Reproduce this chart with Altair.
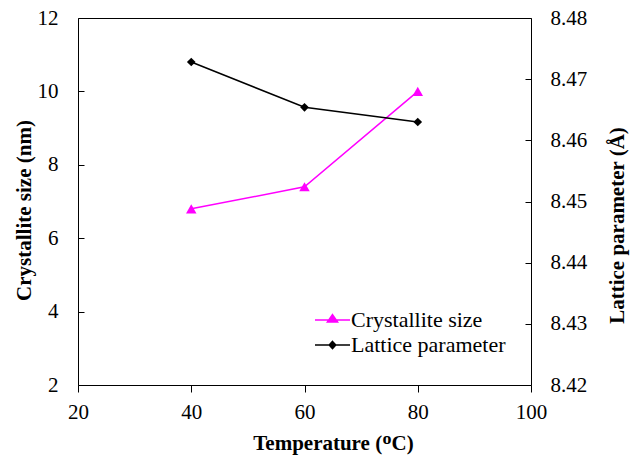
import altair as alt
import pandas as pd

temps = [40, 60, 80]
crystallite = [6.8, 7.4, 10.0]
lattice = [8.4728, 8.4654, 8.4630]
series_names = ["Crystallite size", "Lattice parameter"]
colors = ["#FF00FF", "#000000"]

x_ticks = [20, 40, 60, 80, 100]
left_ticks = [2, 4, 6, 8, 10, 12]
right_ticks = [8.42, 8.43, 8.44, 8.45, 8.46, 8.47, 8.48]

df_c = pd.DataFrame({"temp": temps, "value": crystallite})
df_l = pd.DataFrame({"temp": temps, "value": lattice})
df_leg = pd.DataFrame({"series": series_names})

FONT = "Liberation Serif"
TICK_FS = 21
TITLE_FS = 21

x_enc = alt.X(
    "temp:Q",
    scale=alt.Scale(domain=[20, 100], nice=False, zero=False),
    axis=alt.Axis(
        values=x_ticks, title="Temperature (ᴼC)", domain=False, grid=False,
        tickSize=7, tickColor="black", labelFlush=False,
        labelFont=FONT, labelFontSize=TICK_FS, labelColor="black", labelPadding=9,
        titleFont=FONT, titleFontSize=21, titleFontWeight="bold", titleColor="black",
        titlePadding=10, titleX=255, format="d",
    ),
)

legend_symbols = [
    "M-2.92,0L2.92,0M0,-0.9L0.85,0.35L-0.85,0.35Z",
    "M-2.92,0L2.92,0M0,-0.6L0.55,0L0,0.6L-0.55,0Z",
]

def make_legend():
    return alt.Legend(
        orient="none", legendX=243.5, legendY=291, title=None,
        labelFont=FONT, labelFontSize=22, labelColor="black",
        symbolSize=144, labelOffset=7.5, rowPadding=3, padding=0,
        symbolStrokeWidth=1.5, symbolOpacity=1,
    )

left_axis = alt.Axis(
    orient="left", values=left_ticks, offset=-6, tickSize=6, domain=False, grid=False,
    tickColor="black", labelFlush=False,
    labelFont=FONT, labelFontSize=TICK_FS, labelColor="black", labelPadding=20,
    title="Crystallite size (nm)", titleFont=FONT, titleFontSize=TITLE_FS,
    titleFontWeight="bold", titleColor="black", titlePadding=3, titleY=192,
)
right_axis = alt.Axis(
    orient="right", values=right_ticks, offset=-6, tickSize=6, domain=False, grid=False,
    tickColor="black", labelFlush=False, format=".2f",
    labelFont=FONT, labelFontSize=TICK_FS, labelColor="black", labelPadding=19,
    title="Lattice parameter (Å)", titleFont=FONT, titleFontSize=TITLE_FS,
    titleFontWeight="bold", titleColor="black", titlePadding=41, titleAngle=270,
    titleY=207,
)

y_left = alt.Y("value:Q", scale=alt.Scale(domain=[2, 12], nice=False, zero=False), axis=left_axis)
y_right = alt.Y("value:Q", scale=alt.Scale(domain=[8.42, 8.48], nice=False, zero=False), axis=right_axis)

left = alt.layer(
    alt.Chart(df_c).mark_line(strokeWidth=1.5, color=colors[0]).encode(x=x_enc, y=y_left),
    alt.Chart(df_c).mark_point(filled=True, size=110, opacity=1, shape="triangle-up",
                               color=colors[0]).encode(x=x_enc, y=y_left),
)
right = alt.layer(
    alt.Chart(df_l).mark_line(strokeWidth=1.5, color=colors[1]).encode(x=x_enc, y=y_right),
    alt.Chart(df_l).mark_point(filled=True, size=75, opacity=1, shape="diamond",
                               color=colors[1]).encode(x=x_enc, y=y_right),
)

# legend-only layer (clipped outside the plot area)
legend_layer = alt.Chart(df_leg).mark_point(filled=True, clip=True, strokeWidth=1.5).encode(
    x=alt.value(-60), y=alt.value(-60),
    shape=alt.Shape("series:N", scale=alt.Scale(domain=series_names, range=legend_symbols),
                    legend=make_legend()),
    fill=alt.Fill("series:N", scale=alt.Scale(domain=series_names, range=colors),
                  legend=make_legend()),
    stroke=alt.Stroke("series:N", scale=alt.Scale(domain=series_names, range=colors),
                      legend=make_legend()),
)

chart = (
    alt.layer(left, right, legend_layer)
    .resolve_scale(y="independent")
    .properties(
        width=453, height=367,
        autosize=alt.AutoSizeParams(type="none"),
        padding={"left": 78, "top": 18, "right": 108, "bottom": 72},
        background="white",
    )
    .configure_view(stroke="black", strokeWidth=1)
)

chart.save("out.html", embed_options={"renderer": "svg", "actions": False})
